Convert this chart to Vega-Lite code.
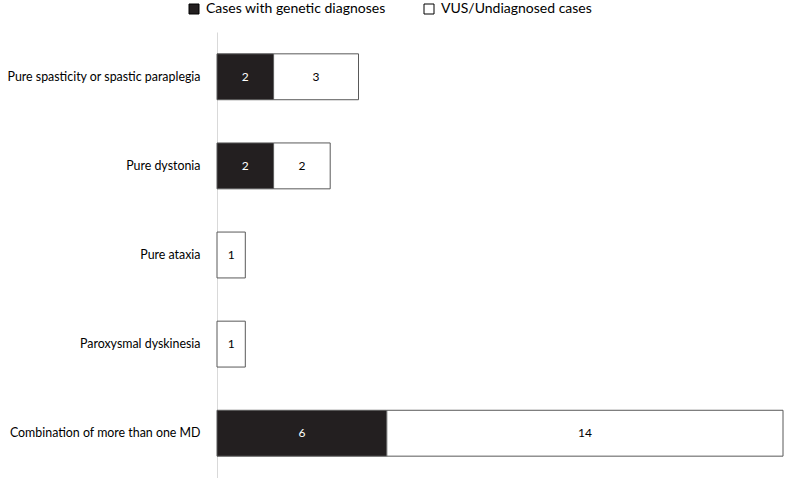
{
  "$schema": "https://vega.github.io/schema/vega-lite/v6.json",
  "autosize": "none",
  "width": 566,
  "height": 446,
  "padding": {"left": 217, "top": 32, "right": 4, "bottom": 0},
  "background": "white",
  "config": {
    "font": "Lato",
    "view": {"stroke": null}
  },
  "data": {
    "values": [
      {"category": "Pure spasticity or spastic paraplegia", "type": "Cases with genetic diagnoses", "order": 1, "value": 2},
      {"category": "Pure spasticity or spastic paraplegia", "type": "VUS/Undiagnosed cases", "order": 2, "value": 3},
      {"category": "Pure dystonia", "type": "Cases with genetic diagnoses", "order": 1, "value": 2},
      {"category": "Pure dystonia", "type": "VUS/Undiagnosed cases", "order": 2, "value": 2},
      {"category": "Pure ataxia", "type": "Cases with genetic diagnoses", "order": 1, "value": 0},
      {"category": "Pure ataxia", "type": "VUS/Undiagnosed cases", "order": 2, "value": 1},
      {"category": "Paroxysmal dyskinesia", "type": "Cases with genetic diagnoses", "order": 1, "value": 0},
      {"category": "Paroxysmal dyskinesia", "type": "VUS/Undiagnosed cases", "order": 2, "value": 1},
      {"category": "Combination of more than one MD", "type": "Cases with genetic diagnoses", "order": 1, "value": 6},
      {"category": "Combination of more than one MD", "type": "VUS/Undiagnosed cases", "order": 2, "value": 14}
    ]
  },
  "transform": [
    {"filter": "datum.value > 0"},
    {"stack": "value", "groupby": ["category"], "sort": [{"field": "order"}], "as": ["x0", "x1"]},
    {"calculate": "(datum.x0 + datum.x1) / 2", "as": "mid"}
  ],
  "encoding": {
    "y": {
      "field": "category",
      "type": "nominal",
      "sort": ["Pure spasticity or spastic paraplegia", "Pure dystonia", "Pure ataxia", "Paroxysmal dyskinesia", "Combination of more than one MD"],
      "title": null,
      "scale": {"paddingInner": 0.485, "paddingOuter": 0.245},
      "axis": {
        "ticks": false,
        "domainColor": "#d9d9d9",
        "domainWidth": 1,
        "labelFont": "Lato",
        "labelFontSize": 12.4,
        "labelColor": "#000000",
        "labelPadding": 17,
        "labelLimit": 300
      }
    }
  },
  "layer": [
    {
      "mark": {"type": "bar", "stroke": "#595959", "strokeWidth": 1},
      "encoding": {
        "x": {"field": "x0", "type": "quantitative", "scale": {"domain": [0, 20]}, "axis": null},
        "x2": {"field": "x1"},
        "fill": {
          "field": "type",
          "type": "nominal",
          "scale": {"domain": ["Cases with genetic diagnoses", "VUS/Undiagnosed cases"], "range": ["#231f20", "#ffffff"]},
          "legend": {
            "title": null,
            "orient": "none",
            "legendX": -30,
            "legendY": -30,
            "direction": "horizontal",
            "symbolType": "square",
            "symbolSize": 100,
            "symbolStrokeColor": "#000000",
            "symbolStrokeWidth": 1,
            "labelFont": "Lato",
            "labelFontSize": 14,
            "labelColor": "#000000",
            "labelOffset": 5,
            "columnPadding": 36,
            "labelLimit": 300
          }
        }
      }
    },
    {
      "mark": {"type": "text", "fontSize": 12, "font": "Lato"},
      "encoding": {
        "x": {"field": "mid", "type": "quantitative"},
        "text": {"field": "value", "type": "quantitative"},
        "color": {
          "field": "type",
          "type": "nominal",
          "scale": {"domain": ["Cases with genetic diagnoses", "VUS/Undiagnosed cases"], "range": ["#ffffff", "#000000"]},
          "legend": null
        }
      }
    }
  ]
}
